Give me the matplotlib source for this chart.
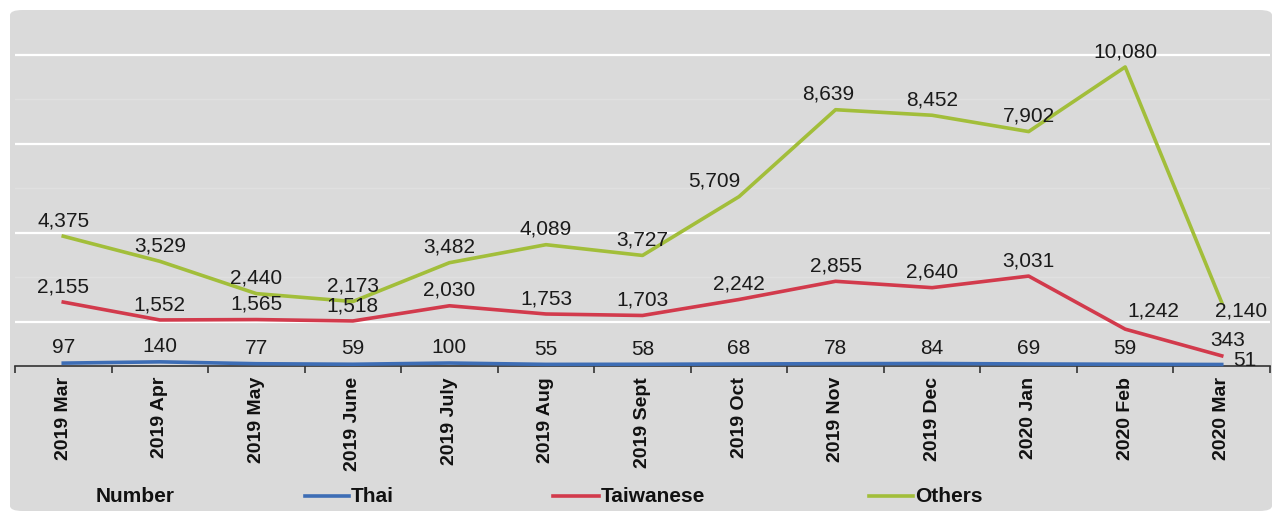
import matplotlib
matplotlib.use("Agg")
import matplotlib.pyplot as plt
from matplotlib.patches import FancyBboxPatch
from matplotlib.lines import Line2D
import numpy as np

plt.rcParams['font.family'] = ['Liberation Sans', 'DejaVu Sans']

months = ["2019 Mar", "2019 Apr", "2019 May", "2019 June", "2019 July", "2019 Aug",
          "2019 Sept", "2019 Oct", "2019 Nov", "2019 Dec", "2020 Jan", "2020 Feb", "2020 Mar"]
thai = [97, 140, 77, 59, 100, 55, 58, 68, 78, 84, 69, 59, 51]
taiwanese = [2155, 1552, 1565, 1518, 2030, 1753, 1703, 2242, 2855, 2640, 3031, 1242, 343]
others = [4375, 3529, 2440, 2173, 3482, 4089, 3727, 5709, 8639, 8452, 7902, 10080, 2140]

series = [("Thai", thai, "#3d6db5"), ("Taiwanese", taiwanese, "#d23a4c"), ("Others", others, "#a2be3a")]

W, H = 1280, 511
fig = plt.figure(figsize=(W / 100, H / 100), dpi=100, facecolor="white")

# gray panel
bg = FancyBboxPatch((10 / W, 0), (1262 / W), (501 / H), boxstyle="round,pad=0,rounding_size=0.01",
                    transform=fig.transFigure, facecolor="#dadada", edgecolor="none", zorder=-10)
fig.patches.append(bg)

left, right = 15 / W, 1270 / W
bottom, top = (H - 366) / H, (H - 10) / H
ax = fig.add_axes([left, bottom, right - left, top - bottom])
ax.set_facecolor("none")
ax.set_zorder(5)

x = np.arange(len(months))
ax.set_xlim(-0.5, len(months) - 0.5)
ax.set_ylim(0, 12000)

for yv in [1500, 4500, 7500, 10500]:
    ax.axhline(yv, color="white", lw=1.6, zorder=1)
for yv in [3000, 6000, 9000]:
    ax.axhline(yv, color="#e0e0e0", lw=1.0, zorder=1)

for name, vals, col in series:
    ax.plot(x, vals, color=col, lw=2.6, zorder=3, solid_joinstyle="round", clip_on=False)

def fmt(v):
    return f"{v:,}"

for name, vals, col in series:
    for i, v in enumerate(vals):
        dx, dy, ha = 0, 11, "center"
        if i == len(vals) - 1:
            if name == "Thai":
                dx, dy, ha = 8, 3, "left"
            elif name == "Taiwanese":
                dx, dy, ha = 4, 11, "center"
            else:
                dx, dy, ha = 14, -6, "center"
        if name == "Taiwanese" and i == 11:
            dx, dy = 20, 13
        if name == "Others" and i == 7:
            dx = -18
        if name == "Others" and i == 8:
            dx = -5
        ax.annotate(fmt(v), (i, v), xytext=(dx, dy), textcoords="offset points",
                    ha=ha, va="center", fontsize=15, color="#1a1a1a", zorder=4)

for s in ["top", "right", "left"]:
    ax.spines[s].set_visible(False)
ax.spines["bottom"].set_color("#333333")
ax.spines["bottom"].set_linewidth(1.2)
ax.set_yticks([])
ax.set_xticks(x)
ax.set_xticklabels(months, rotation=90, fontsize=14, fontweight="bold", color="#111111")
ax.tick_params(axis="x", which="major", length=0, pad=8)
ax.set_xticks(np.arange(-0.5, len(months)), minor=True)
ax.tick_params(axis="x", which="minor", length=5, width=1.2, color="#333333", direction="out")

# legend row
ly = (H - 496) / H
fig.text(135 / W, ly, "Number", ha="center", va="center", fontsize=15, fontweight="bold", color="#111111")
legend_pos = [(305, 349), (553, 599), (869, 913)]
for (name, vals, col), (x0, x1) in zip(series, legend_pos):
    fig.lines.append(Line2D([x0 / W, x1 / W], [ly, ly], color=col, lw=2.6, transform=fig.transFigure))
    fig.text((x1 + 2) / W, ly, name, ha="left", va="center", fontsize=15, fontweight="bold", color="#111111")

fig.savefig("out.png", dpi=100, facecolor="white")
